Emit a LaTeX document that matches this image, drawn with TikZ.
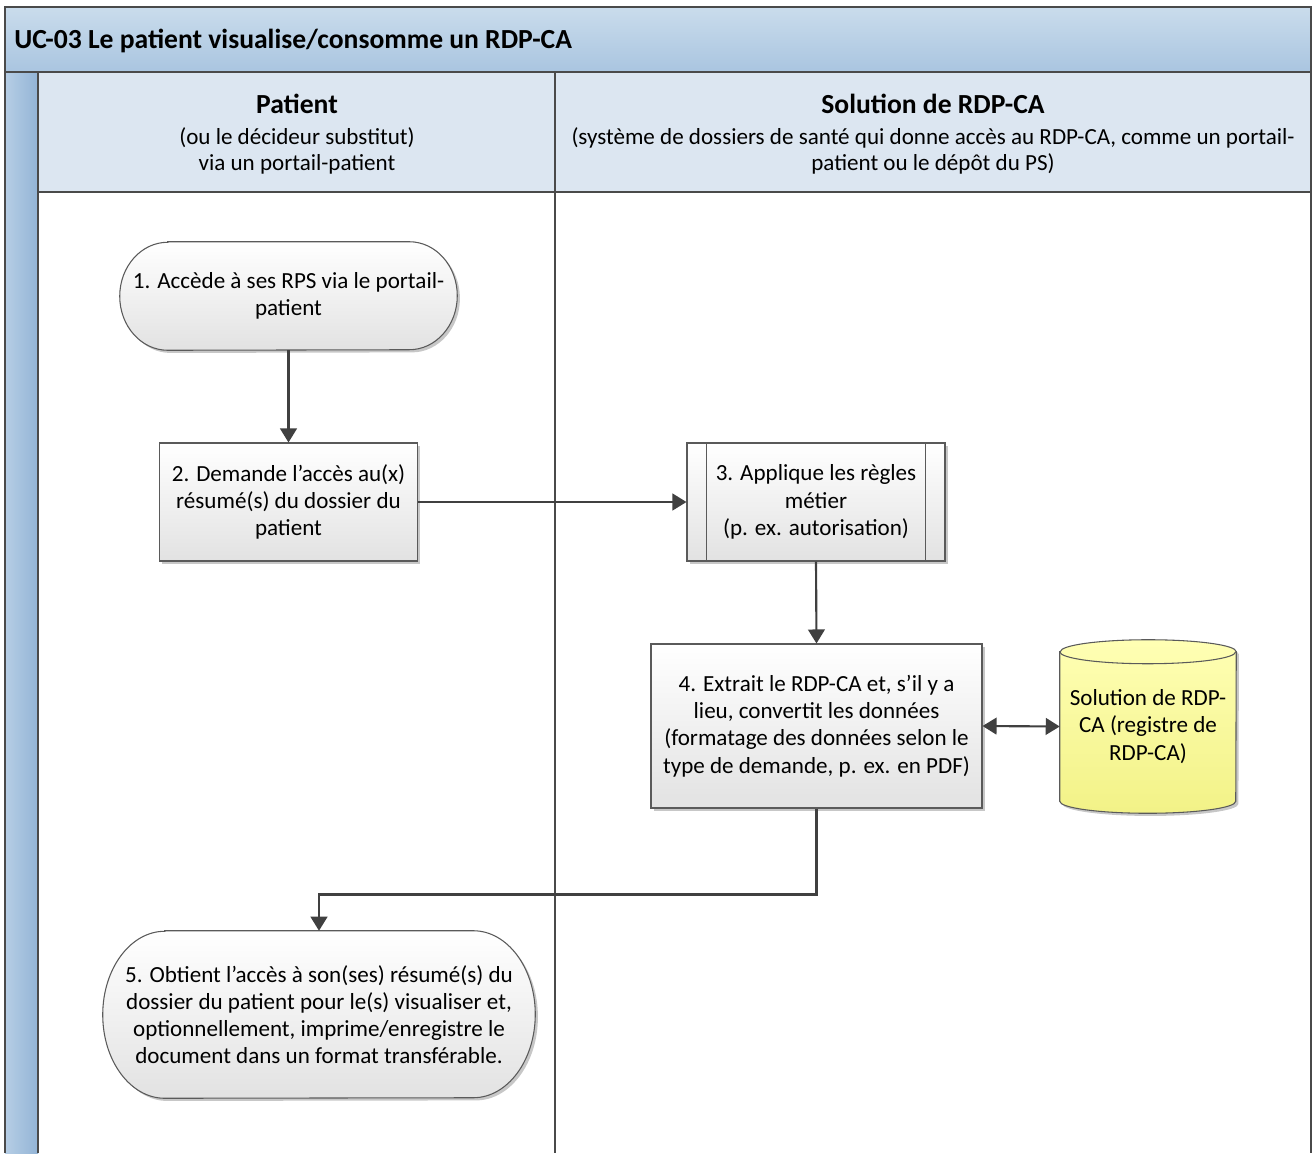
\documentclass[tikz,border=0pt]{standalone}
\usepackage{fontspec}
\setmainfont{Carlito}
\usetikzlibrary{arrows.meta,shadows,calc}
\definecolor{linec}{HTML}{404040}
\definecolor{lanec}{HTML}{4A4A4A}
\definecolor{boxc}{HTML}{5A5A5A}
\definecolor{titletop}{HTML}{CADCEC}
\definecolor{titlebot}{HTML}{A9C5E0}
\definecolor{hdr}{HTML}{DCE6F1}
\definecolor{stripL}{HTML}{B6CEE5}
\definecolor{stripR}{HTML}{93B4D6}
\definecolor{boxtop}{HTML}{FFFFFF}
\definecolor{boxbot}{HTML}{E2E2E2}
\definecolor{dbtop}{HTML}{FFFFB4}
\definecolor{dbbot}{HTML}{F2F287}
\pgfdeclarelayer{back}
\pgfdeclarelayer{bg}
\pgfsetlayers{back,bg,main}
\newcommand\bodyfont{\fontsize{17.3pt}{20.4pt}\selectfont}
\newcommand\headfont{\fontsize{20.7pt}{24pt}\selectfont\bfseries}
\newcommand\drawterm[3]{%
  \begin{pgfonlayer}{bg}
  \path[termstyle] ([xshift=#2*0.75pt]#1.north west) -- ([xshift=-#2*0.75pt]#1.north east)
    arc[start angle=90,end angle=-90,x radius=#2*0.75pt,y radius=#3*0.75pt]
    -- ([xshift=#2*0.75pt]#1.south west)
    arc[start angle=270,end angle=90,x radius=#2*0.75pt,y radius=#3*0.75pt] -- cycle;
  \end{pgfonlayer}}
\begin{document}
\begin{tikzpicture}[x=0.75pt,y=-0.75pt,
  every node/.style={font=\bodyfont, text=black, inner sep=0pt},
  shad/.style={drop shadow={shadow xshift=2pt,shadow yshift=-2pt,fill=black,opacity=0.22}},
  procbox/.style={draw=boxc, line width=0.8pt, top color=boxtop, bottom color=boxbot, shad, align=center},
  termbox/.style={align=center},
  termstyle/.style={draw=boxc, line width=0.8pt, top color=boxtop, bottom color=boxbot, shad},
  conn/.style={draw=linec, line width=1.6pt, -{Triangle[length=10.5pt,width=12.5pt]}},
  conn2/.style={draw=linec, line width=1.6pt, {Triangle[length=10.5pt,width=12.5pt]}-{Triangle[length=10.5pt,width=12.5pt]}},
  lane/.style={draw=lanec, line width=1.1pt},
  hdrtext/.style={align=center}
]
\useasboundingbox (0,0) rectangle (1313,1153);

% ---------- swimlane background ----------
\begin{pgfonlayer}{back}
\fill[white] (0,0) rectangle (1313,1153);
\fill[top color=titletop,bottom color=titlebot] (5,7) rectangle (1311,72);
\fill[left color=stripL,right color=stripR] (5,72) rectangle (38,1153);
\fill[hdr] (38,72) rectangle (1311,192);
\draw[lane] (5,1153) -- (5,7) -- (1311,7) -- (1311,1153);
\draw[lane] (5,72) -- (1311,72);
\draw[lane] (38,72) -- (38,1153);
\draw[lane] (555,72) -- (555,1153);
\draw[lane] (38,192) -- (1311,192);
\end{pgfonlayer}

% ---------- titles ----------
\node[anchor=west, font=\headfont] (title) at (14,41) {UC-03 Le patient visualise/consomme un RDP-CA};
\node[font=\headfont] (hpa) at (297,104) {Patient};
\node (hpb) at (297,138) {(ou le décideur substitut)};
\node (hpc) at (297,164) {via un portail-patient};
\node[font=\headfont] (hsa) at (933,104) {Solution de RDP-CA};
\node (hsb) at (933,138) {(système de dossiers de santé qui donne accès au RDP-CA, comme un portail-};
\node (hsc) at (933,164) {patient ou le dépôt du PS)};

% ---------- flow nodes ----------
\node[termbox, minimum width=337*0.75pt, minimum height=108*0.75pt] (t1) at (288.5,296)
  {1. Accède à ses RPS via le portail-\\patient};
\drawterm{t1}{48}{54}

\node[procbox, minimum width=258*0.75pt, minimum height=118*0.75pt] (p2) at (288.5,502)
  {2. Demande l’accès au(x)\\résumé(s) du dossier du\\patient};

\node[procbox, minimum width=258*0.75pt, minimum height=118*0.75pt] (p3) at (816,502)
  {3. Applique les règles\\métier\\(p. ex. autorisation)};
\draw[draw=boxc, line width=0.8pt] ([xshift=20*0.75pt]p3.north west) -- ([xshift=20*0.75pt]p3.south west);
\draw[draw=boxc, line width=0.8pt] ([xshift=-20*0.75pt]p3.north east) -- ([xshift=-20*0.75pt]p3.south east);

\node[procbox, minimum width=331*0.75pt, minimum height=164*0.75pt] (p4) at (816.5,726)
  {4. Extrait le RDP-CA et, s’il y a\\lieu, convertit les données\\(formatage des données selon le\\type de demande, p. ex. en PDF)};

% database cylinder
\node[align=center, minimum width=176*0.75pt, minimum height=173*0.75pt] (db) at (1148,726.5)
  {Solution de RDP-\\CA (registre de\\RDP-CA)};
\begin{pgfonlayer}{bg}
\path[draw=boxc, line width=0.8pt, top color=dbtop, bottom color=dbbot, shad]
  ([yshift=-12*0.75pt]db.north west) -- ([yshift=12*0.75pt]db.south west)
  arc[start angle=180,end angle=360,x radius=88*0.75pt,y radius=12*0.75pt]
  -- ([yshift=-12*0.75pt]db.north east)
  arc[start angle=0,end angle=180,x radius=88*0.75pt,y radius=12*0.75pt] -- cycle;
\draw[boxc, line width=0.8pt] ([yshift=-12*0.75pt]db.north west)
  arc[start angle=180,end angle=360,x radius=88*0.75pt,y radius=12*0.75pt];
\end{pgfonlayer}

\node[termbox, minimum width=432*0.75pt, minimum height=167*0.75pt] (t5) at (319,1014.5)
  {5. Obtient l’accès à son(ses) résumé(s) du\\dossier du patient pour le(s) visualiser et,\\optionnellement, imprime/enregistre le\\document dans un format transférable.};
\drawterm{t5}{62}{83.5}

% ---------- connectors ----------
\draw[conn] (t1.south) -- (p2.north);
\draw[conn] (p2.east) -- (p3.west);
\draw[conn] (p3.south) -- (p4.north);
\draw[conn2] (p4.east) -- (db.west);
\draw[conn] (p4.south) -- ++(0,86) -| (t5.north);
\end{tikzpicture}
\end{document}
